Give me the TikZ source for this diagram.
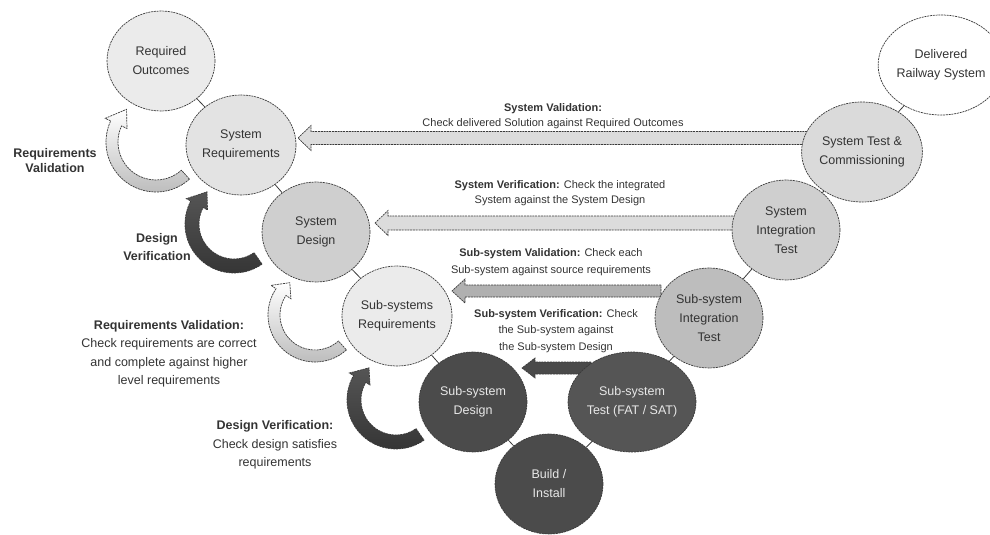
\documentclass[tikz,border=0pt]{standalone}
\usepackage{fontspec}
\setmainfont{Liberation Sans}
\usetikzlibrary{shapes.geometric,calc}

\definecolor{ink}{HTML}{333333}
\definecolor{edge}{HTML}{3A3A3A}
\definecolor{paleA}{HTML}{EBEBEB}
\definecolor{paleB}{HTML}{E3E3E3}
\definecolor{paleC}{HTML}{DADADA}
\definecolor{midA}{HTML}{CFCFCF}
\definecolor{midB}{HTML}{BDBDBD}
\definecolor{deepA}{HTML}{4B4B4B}
\definecolor{deepB}{HTML}{555555}
\definecolor{lighttext}{HTML}{E8E8E8}
\definecolor{bandA}{HTML}{DCDCDC}
\definecolor{bandB}{HTML}{B0B0B0}
\definecolor{bandC}{HTML}{4A4A4A}

% straight hollow block arrow pointing left: style, tail, tip, body half-height, head half-height
\newcommand\leftblockarrow[5]{%
  \filldraw[#1] ($(#2)+(0,-#4)$) -- ($(#3)+(13,-#4)$) -- ($(#3)+(13,-#5)$) -- (#3)
    -- ($(#3)+(13,#5)$) -- ($(#3)+(13,#4)$) -- ($(#2)+(0,#4)$) -- cycle;}

\begin{document}
\begin{tikzpicture}[x=1pt,y=-1pt,
  outline/.style={draw=edge, line width=0.7pt, dash pattern=on 2pt off 0.8pt},
  stage/.style={ellipse, outline, minimum width=108pt, minimum height=100pt,
    inner sep=0pt, align=center, font=\fontsize{12.5}{19}\selectfont, text=ink},
  deepstage/.style={stage, text=lighttext},
  link/.style={draw=edge, line width=0.8pt},
  band/.style={outline},
  lightbend/.style={outline, top color=white, bottom color=gray!55},
  deepbend/.style={outline, top color=deepB, bottom color=black!80},
  note/.style={align=center, text=ink, font=\fontsize{11}{15}\selectfont},
  sidenote/.style={align=center, text=ink, font=\fontsize{12.5}{18.5}\selectfont}]
\useasboundingbox (0,0) rectangle (990,535);

% ---- horizontal check arrows (drawn first, the stages sit on their tails) ----
\coordinate (sval-tail) at (810,138);
\coordinate (sval-tip) at (298,138);
\coordinate (sver-tail) at (736,223);
\coordinate (sver-tip) at (375,223);
\coordinate (bval-tail) at (661,291);
\coordinate (bval-tip) at (452,291);
\coordinate (bver-tail) at (591,368);
\coordinate (bver-tip) at (522,368);
\leftblockarrow{band, fill=bandA}{sval-tail}{sval-tip}{6.5}{12.5}
\leftblockarrow{band, fill=bandA}{sver-tail}{sver-tip}{7}{12.5}
\leftblockarrow{band, fill=bandB}{bval-tail}{bval-tip}{6}{12}
\leftblockarrow{band, fill=bandC}{bver-tail}{bver-tip}{6}{10}

% ---- stages of the life cycle ----
\node[stage, fill=paleA] (reqout) at (161,61) {Required\\Outcomes};
\node[stage, fill=paleB] (sysreq) at (241,145) {System\\Requirements};
\node[stage, fill=midA] (sysdes) at (316,232) {System\\Design};
\node[stage, fill=paleA] (subreq) at (397,316) {Sub-systems\\Requirements};
\node[deepstage, fill=deepA] (subdes) at (473,402) {Sub-system\\Design};
\node[deepstage, fill=deepA] (build) at (549,484) {Build /\\Install};
\node[deepstage, fill=deepB] (subtest) at (632,402) {Sub-system\\Test (FAT / SAT)};
\node[stage, fill=midB] (subint) at (709,318) {Sub-system\\Integration\\Test};
\node[stage, fill=midA] (sysint) at (786,230) {System\\Integration\\Test};
\node[stage, fill=paleC] (systest) at (862,152) {System Test \&\\Commissioning};
\node[stage, fill=white] (deliv) at (941,65) {Delivered\\Railway System};

% ---- links along the V ----
\draw[link] (reqout) -- (sysreq);
\draw[link] (sysreq) -- (sysdes);
\draw[link] (sysdes) -- (subreq);
\draw[link] (subreq) -- (subdes);
\draw[link] (subdes) -- (build);
\draw[link] (build) -- (subtest);
\draw[link] (subtest) -- (subint);
\draw[link] (subint) -- (sysint);
\draw[link] (sysint) -- (systest);
\draw[link] (systest) -- (deliv);

% ---- curved loop arrows ----
\begin{scope}[shift={(156,142)}]
  \shadedraw[lightbend] (-48:50pt) arc[start angle=-48, end angle=-205, radius=50pt]
    -- (-205:56pt) -- (-228:44pt) -- (-205:32pt) -- (-205:38pt)
    arc[start angle=-205, end angle=-48, radius=38pt] -- cycle;
\end{scope}
\begin{scope}[shift={(234,224)}]
  \shadedraw[deepbend] (-55:49pt) arc[start angle=-55, end angle=-208, radius=49pt]
    -- (-208:54pt) -- (-230:42pt) -- (-208:30pt) -- (-208:35pt)
    arc[start angle=-208, end angle=-55, radius=35pt] -- cycle;
\end{scope}
\begin{scope}[shift={(315,315)}]
  \shadedraw[lightbend] (-48:47pt) arc[start angle=-48, end angle=-214, radius=47pt]
    -- (-214:53pt) -- (-232:41pt) -- (-214:29pt) -- (-214:35pt)
    arc[start angle=-214, end angle=-48, radius=35pt] -- cycle;
\end{scope}
\begin{scope}[shift={(396,400)}]
  \shadedraw[deepbend] (-55:49pt) arc[start angle=-55, end angle=-210, radius=49pt]
    -- (-210:54pt) -- (-230:42pt) -- (-210:30pt) -- (-210:35pt)
    arc[start angle=-210, end angle=-55, radius=35pt] -- cycle;
\end{scope}

% ---- labels ----
\node[note] (svaltxt) at (553,116) {\textbf{System Validation:}\\Check delivered Solution against Required Outcomes};
\node[note] (svertxt) at (560,193) {\textbf{System Verification:} Check the integrated\\System against the System Design};
\node[note, font=\fontsize{11}{17}\selectfont] (bvaltxt) at (551,262) {\textbf{Sub-system Validation:} Check each\\Sub-system against source requirements};
\node[note, font=\fontsize{11}{16.5}\selectfont] (bvertxt) at (556,331) {\textbf{Sub-system Verification:} Check\\the Sub-system against\\the Sub-system Design};

\node[sidenote, font=\bfseries\fontsize{12.5}{15}\selectfont] (rv1) at (55,161) {Requirements\\Validation};
\node[sidenote, font=\bfseries\fontsize{12.5}{18}\selectfont] (dv1) at (157,247) {Design\\Verification};
\node[sidenote] (rv2) at (169,354) {\textbf{Requirements Validation:}\\Check requirements are correct\\and complete against higher\\level requirements};
\node[sidenote] (dv2) at (275,445) {\textbf{Design Verification:}\\Check design satisfies\\requirements};
\end{tikzpicture}
\end{document}
